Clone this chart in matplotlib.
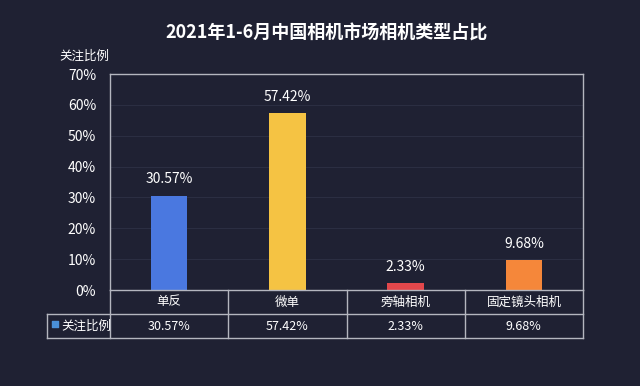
import matplotlib
matplotlib.use("Agg")
import matplotlib.pyplot as plt
import numpy as np

plt.rcParams['font.family'] = ['Noto Sans CJK SC', 'DejaVu Sans']

# 数据
categories = ["单反", "微单", "旁轴相机", "固定镜头相机"]
values = [30.57, 57.42, 2.33, 9.68]
bar_colors = ["#4a78e0", "#f5c343", "#e2474b", "#f5873a"]
series_name = "关注比例"
title = "2021年1-6月中国相机市场相机类型占比"
yticks = [0, 10, 20, 30, 40, 50, 60, 70]

bg = "#1f2133"
line_c = "#b4b6bf"
W, H = 640, 386

fig = plt.figure(figsize=(6.4, 3.86), dpi=100, facecolor=bg)

def px_rect(x0, y0, x1, y1):
    # 像素坐标 -> figure坐标 (左上原点)
    return [x0 / W, 1 - y1 / H, (x1 - x0) / W, (y1 - y0) / H]

# 主图
ax = fig.add_axes(px_rect(110, 74, 583, 290))
ax.set_facecolor(bg)
x = np.arange(len(categories))
ax.bar(x, values, width=0.31, color=bar_colors, zorder=3)
for xi, v in zip(x, values):
    ax.text(xi, v + 3.0, f"{v:.2f}%", ha="center", va="bottom", color="white", fontsize=10)
ax.set_xlim(-0.5, len(categories) - 0.5)
ax.set_ylim(0, 70)
ax.set_yticks(yticks)
ax.set_yticklabels([f"{t}%" for t in yticks], color="white", fontsize=10)
ax.set_xticks([])
ax.tick_params(axis="y", length=0, pad=10)
ax.grid(axis="y", color="#2b2e42", linewidth=0.8, zorder=0)
for s in ax.spines.values():
    s.set_color(line_c)
    s.set_linewidth(1)
ax.spines["bottom"].set_visible(False)

fig.text(84 / W, 1 - 56 / H, series_name, ha="center", va="center", color="white", fontsize=9)
fig.text(327 / W, 1 - 33 / H, title, ha="center", va="center", color="white", fontsize=13, fontweight="bold")

# 数据表
left_units = -0.5 - (110 - 47) / ((583 - 110) / 4)
tax = fig.add_axes(px_rect(47, 290, 583, 338))
tax.set_xlim(left_units, len(categories) - 0.5)
tax.set_ylim(0, 2)
tax.axis("off")
lw = 1
# 横线
tax.plot([-0.5, 3.5], [2, 2], color=line_c, lw=lw, clip_on=False)
tax.plot([left_units, 3.5], [1, 1], color=line_c, lw=lw, clip_on=False)
tax.plot([left_units, 3.5], [0, 0], color=line_c, lw=lw, clip_on=False)
# 竖线
tax.plot([left_units, left_units], [0, 1], color=line_c, lw=lw, clip_on=False)
for b in np.arange(len(categories) + 1) - 0.5:
    tax.plot([b, b], [0, 2], color=line_c, lw=lw, clip_on=False)
for xi, c, v in zip(x, categories, values):
    tax.text(xi, 1.5, c, ha="center", va="center", color="white", fontsize=9)
    tax.text(xi, 0.5, f"{v:.2f}%", ha="center", va="center", color="white", fontsize=9)
unit_px = (583 - 110) / 4
tax.text(left_units + 14 / unit_px, 0.5, series_name, ha="left", va="center", color="white", fontsize=9)
tax.scatter([left_units + 7.5 / unit_px], [0.6], marker="s", s=14, color="#4a90d9", clip_on=False)

fig.savefig("out.png", dpi=100, facecolor=bg)
